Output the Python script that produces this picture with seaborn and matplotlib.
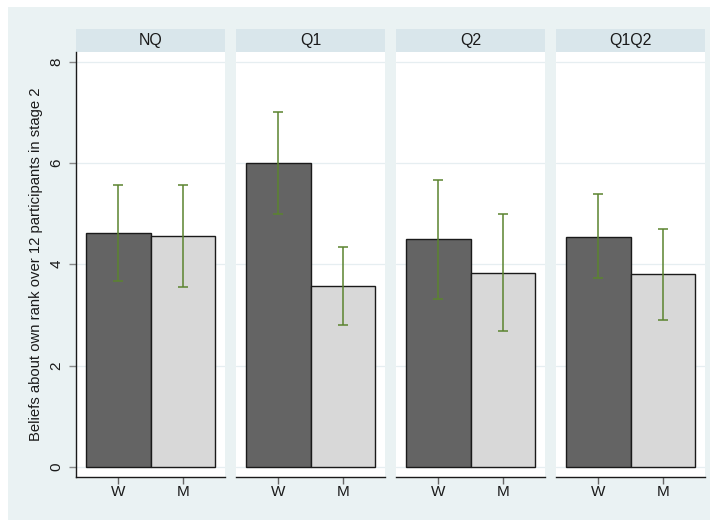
import numpy as np
import pandas as pd
import matplotlib
matplotlib.use("Agg")
import matplotlib.pyplot as plt
import seaborn as sns
from matplotlib.patches import Rectangle

sns.set_style("white")
plt.rcParams["font.family"] = ["Liberation Sans", "DejaVu Sans"]

# -----------------------------
# DATA
# -----------------------------
treatments = ["NQ", "Q1", "Q2", "Q1Q2"]
genders = ["W", "M"]
mean_w = [4.61, 5.99, 4.49, 4.53]
mean_m = [4.55, 3.57, 3.82, 3.80]
ci_low_w = [3.67, 4.99, 3.31, 3.72]
ci_high_w = [5.56, 7.00, 5.67, 5.38]
ci_low_m = [3.55, 2.80, 2.68, 2.90]
ci_high_m = [5.56, 4.35, 5.00, 4.69]
yticks = [0, 2, 4, 6, 8]

df = pd.DataFrame({
    "treatment": np.repeat(treatments, 2),
    "gender": genders * len(treatments),
    "belief": [v for pair in zip(mean_w, mean_m) for v in pair],
    "lo": [v for pair in zip(ci_low_w, ci_low_m) for v in pair],
    "hi": [v for pair in zip(ci_high_w, ci_high_m) for v in pair],
})

# -----------------------------
# STYLE
# -----------------------------
outer_bg = "#eaf2f3"
strip_bg = "#d9e6eb"
grid_col = "#e6eef1"
bar_cols = {"W": "#646464", "M": "#d8d8d8"}
err_col = "#5b842f"
text_col = "#1a1a1a"

W, H = 713, 522
fig = plt.figure(figsize=(W / 100, H / 100), dpi=100, facecolor="white")
fig.patches.append(Rectangle((8 / W, 1 - 520 / H), (710 - 8) / W, (520 - 7) / H,
                             transform=fig.transFigure, facecolor=outer_bg,
                             edgecolor="none", zorder=-10))

panel_x = [76, 236, 396, 556]
panel_w = 149
top_px, bot_px = 52, 477
strip_h = 23

for i, t in enumerate(treatments):
    ax = fig.add_axes([panel_x[i] / W, 1 - bot_px / H, panel_w / W, (bot_px - top_px) / H])
    ax.set_facecolor("white")
    sub = df[df["treatment"] == t]
    sns.barplot(data=sub, x="gender", y="belief", hue="gender", order=genders,
                palette=bar_cols, width=1.0, errorbar=None, legend=False,
                edgecolor="#1a1a1a", linewidth=1.0, ax=ax, zorder=3)
    xs = np.arange(len(genders))
    ax.errorbar(xs, sub["belief"], yerr=[sub["belief"] - sub["lo"], sub["hi"] - sub["belief"]],
                fmt="none", ecolor=err_col, elinewidth=1.1, capsize=3.5, capthick=1.1, zorder=4)
    for y in yticks:
        ax.axhline(y, color=grid_col, lw=0.9, zorder=0)
    ax.set_xlim(-0.656, 1.656)
    ax.set_ylim(-0.2, 8.19)
    ax.set_xlabel("")
    ax.set_ylabel("")
    for s in ["top", "right"]:
        ax.spines[s].set_visible(False)
    ax.spines["bottom"].set_color("#1a1a1a")
    ax.spines["bottom"].set_linewidth(1.0)
    ax.tick_params(axis="x", length=5, width=1.0, color="#666666", labelsize=11, pad=1,
                   labelcolor=text_col, bottom=True)
    if i == 0:
        ax.spines["left"].set_color("#1a1a1a")
        ax.spines["left"].set_linewidth(1.0)
        ax.set_yticks(yticks)
        ax.tick_params(axis="y", length=5, width=1.0, color="#888888", labelsize=11,
                       labelcolor=text_col, left=True, pad=4)
        for lab in ax.get_yticklabels():
            lab.set_rotation(90)
            lab.set_va("center")
        ax.set_ylabel("Beliefs about own rank over 12 participants in stage 2",
                      fontsize=10.7, color=text_col, labelpad=5)
    else:
        ax.spines["left"].set_visible(False)
        ax.set_yticks(yticks)
        ax.tick_params(axis="y", left=False, labelleft=False)
    # facet strip
    ax.add_patch(Rectangle((0, 1), 1, strip_h / (bot_px - top_px), transform=ax.transAxes,
                           facecolor=strip_bg, edgecolor="none", clip_on=False))
    ax.text(0.5, 1 + strip_h / 2 / (bot_px - top_px), t, transform=ax.transAxes,
            ha="center", va="center", fontsize=11.5, color=text_col)

fig.savefig("out.png", dpi=100, facecolor="white")
